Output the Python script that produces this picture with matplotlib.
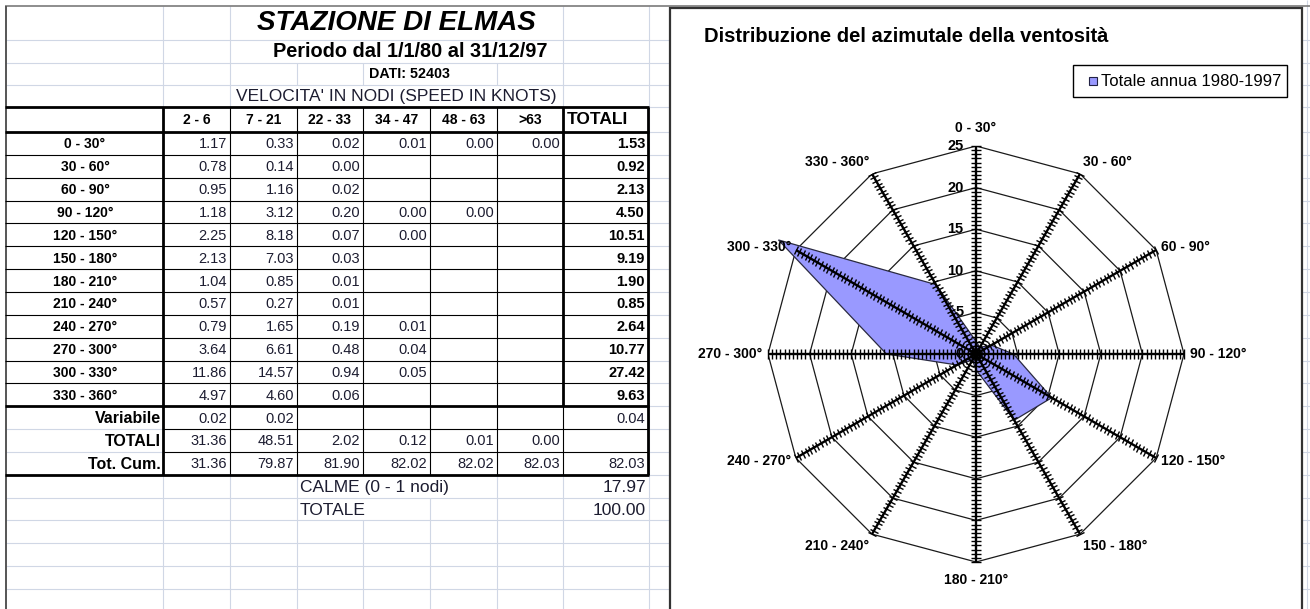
import numpy as np
import matplotlib
matplotlib.use('Agg')
import matplotlib.pyplot as plt
from matplotlib.markers import MarkerStyle
from matplotlib.transforms import Affine2D
from matplotlib.patches import Rectangle
from matplotlib import font_manager as fm

# ---------------- data ----------------
directions = ['0 - 30°', '30 - 60°', '60 - 90°', '90 - 120°', '120 - 150°', '150 - 180°',
              '180 - 210°', '210 - 240°', '240 - 270°', '270 - 300°', '300 - 330°', '330 - 360°']
direction_deg = [0, 30, 60, 90, 120, 150, 180, 210, 240, 270, 300, 330]
speed_classes = ['2 - 6', '7 - 21', '22 - 33', '34 - 47', '48 - 63', '>63']
spd_2_6 = [1.17, 0.78, 0.95, 1.18, 2.25, 2.13, 1.04, 0.57, 0.79, 3.64, 11.86, 4.97]
spd_7_21 = [0.33, 0.14, 1.16, 3.12, 8.18, 7.03, 0.85, 0.27, 1.65, 6.61, 14.57, 4.60]
spd_22_33 = [0.02, 0.00, 0.02, 0.20, 0.07, 0.03, 0.01, 0.01, 0.19, 0.48, 0.94, 0.06]
spd_34_47 = [0.01, None, None, 0.00, 0.00, None, None, None, 0.01, 0.04, 0.05, None]
spd_48_63 = [0.00, None, None, 0.00, None, None, None, None, None, None, None, None]
spd_gt63 = [0.00, None, None, None, None, None, None, None, None, None, None, None]
dir_totals = [1.53, 0.92, 2.13, 4.50, 10.51, 9.19, 1.90, 0.85, 2.64, 10.77, 27.42, 9.63]
variabile = [0.02, 0.02, None, None, None, None]
variabile_total = 0.04
class_totals = [31.36, 48.51, 2.02, 0.12, 0.01, 0.00]
cumulative = [31.36, 79.87, 81.90, 82.02, 82.02, 82.03]
cumulative_total = 82.03
calme = 17.97
totale = 100.00
radial_ticks = [0, 5, 10, 15, 20, 25]
series_label = 'Totale annua 1980-1997'

# ---------------- fonts ----------------
avail = {f.name for f in fm.fontManager.ttflist}
base = 'Liberation Sans' if 'Liberation Sans' in avail else 'DejaVu Sans'
plt.rcParams['font.family'] = [base, 'DejaVu Sans']

W, H = 1310, 609
fig = plt.figure(figsize=(W / 100, H / 100), dpi=100)
fig.patch.set_facecolor('white')
bg = fig.add_axes([0, 0, 1, 1])
bg.set_xlim(0, W)
bg.set_ylim(H, 0)
bg.axis('off')

GRID = '#d0d7e5'
TXT = '#1c1c30'

# spreadsheet geometry (pixels)
cols = [5, 163, 230, 297, 363, 430, 497, 563, 648]
grid_x = [163, 230, 297, 363, 430, 497, 563, 649]
top_rows = [6, 40, 62.5, 85, 107]
t0, rh = 132, 22.85
row_edges = [t0 + k * rh for k in range(0, 22)]

def hl(y, x0, x1, c=GRID, lw=0.8, z=1):
    bg.plot([x0, x1], [y, y], color=c, lw=lw, zorder=z, solid_capstyle='butt')

def vl(x, y0, y1, c=GRID, lw=0.8, z=1):
    bg.plot([x, x], [y0, y1], color=c, lw=lw, zorder=z, solid_capstyle='butt')

# gray spreadsheet grid - top rows
for y in top_rows[1:4]:
    hl(y, 5, W)
vis_top = [[163, 230, 563, 649], [163, 230, 563, 649],
           [163, 230, 297, 363, 497, 563, 649], [163, 230, 563, 649]]
for i in range(4):
    for x in vis_top[i]:
        vl(x, top_rows[i], top_rows[i + 1])
# gray grid beside / below table
tab_bot = row_edges[15]
for k in range(0, 22):
    y = row_edges[k]
    if y > H + 5:
        break
    if k <= 15:
        hl(y, 649, W)
    else:
        hl(y, 5, W)
hl(top_rows[4], 649, W)
for k in (13, 14):
    hl(row_edges[k], 5, 163)
vl(649, top_rows[4], tab_bot)
calme_vis = [163, 230, 297, 497, 563, 649]
totale_vis = [163, 230, 297, 430, 497, 563, 649]
for x in calme_vis:
    vl(x, row_edges[15], row_edges[16])
for x in totale_vis:
    vl(x, row_edges[16], row_edges[17])
for x in grid_x:
    vl(x, row_edges[17], H)
vl(1307, 0, H)

# outer sheet frame
hl(6, 5, W, c='#7a7a7a', lw=1.2, z=2)
vl(5.5, 6, H, c='#555555', lw=1.4, z=2)

# table black lines
BL = 'black'
thin, thick = 0.8, 2.0
for k in range(1, 12):
    hl(row_edges[k], 5, 648, c=BL, lw=thin, z=3)
for k in (13, 14):
    hl(row_edges[k], 163, 648, c=BL, lw=thin, z=3)
for y in (107, row_edges[0], row_edges[12], row_edges[15]):
    hl(y, 5, 649, c=BL, lw=thick, z=4)
for x in cols[2:7]:
    vl(x, 107, tab_bot, c=BL, lw=thin, z=3)
vl(163, 107, tab_bot, c=BL, lw=thick, z=4)
vl(563, 107, row_edges[12], c=BL, lw=thick, z=4)
vl(563, row_edges[12], tab_bot, c=BL, lw=thin, z=3)
vl(647.5, 107, tab_bot, c=BL, lw=thick, z=4)

# ---------------- table texts ----------------
def txt(x, y, s, size, weight='normal', style='normal', ha='center', color=TXT):
    bg.text(x, y, s, fontsize=size, fontweight=weight, fontstyle=style,
            ha=ha, va='center', color=color, zorder=6)

txt(396, 23, 'STAZIONE DI ELMAS', 20, 'bold', 'italic', color='black')
txt(410, 51.5, 'Periodo dal 1/1/80 al 31/12/97', 14.4, 'bold', color='black')
txt(409, 74, 'DATI: 52403', 10.3, 'bold', color='black')
txt(396, 96.5, "VELOCITA' IN NODI (SPEED IN KNOTS)", 12.5)

hdr_y = (107 + row_edges[0]) / 2 + 1
for j, sc in enumerate(speed_classes):
    txt((cols[1 + j] + cols[2 + j]) / 2, hdr_y, sc, 10, 'bold', color='black')
txt(567, hdr_y - 1, 'TOTALI', 12.5, 'bold', ha='left', color='black')

def fmt(v):
    return '' if v is None else f'{v:.2f}'

table_cols = [spd_2_6, spd_7_21, spd_22_33, spd_34_47, spd_48_63, spd_gt63]
for i, d in enumerate(directions):
    yc = (row_edges[i] + row_edges[i + 1]) / 2 + 1
    txt(85, yc, d, 10, 'bold', color='black')
    for j, colv in enumerate(table_cols):
        s = fmt(colv[i])
        if s:
            txt(cols[2 + j] - 3, yc, s, 10.5, ha='right')
    txt(cols[8] - 3, yc, fmt(dir_totals[i]), 10.5, 'bold', ha='right', color='black')

def summary_row(k, label, vals, total):
    yc = (row_edges[k] + row_edges[k + 1]) / 2 + 1
    txt(161, yc, label, 11.5, 'bold', ha='right', color='black')
    for j, v in enumerate(vals):
        s = fmt(v)
        if s:
            txt(cols[2 + j] - 3, yc, s, 10.5, ha='right')
    if total is not None:
        txt(cols[8] - 3, yc, fmt(total), 10.5, ha='right')

summary_row(12, 'Variabile', variabile, variabile_total)
summary_row(13, 'TOTALI', class_totals, None)
summary_row(14, 'Tot. Cum.', cumulative, cumulative_total)

yc = (row_edges[15] + row_edges[16]) / 2 + 1
txt(300, yc, 'CALME (0 - 1 nodi)', 12.5, ha='left')
txt(646, yc, fmt(calme), 12.5, ha='right')
yc = (row_edges[16] + row_edges[17]) / 2 + 1
txt(300, yc, 'TOTALE', 12.5, ha='left')
txt(646, yc, fmt(totale), 12.5, ha='right')

# ---------------- chart area ----------------
bg.add_patch(Rectangle((670, 8), 632, H, facecolor='white', edgecolor='#333333',
                       lw=1.6, zorder=8))
bg.text(704, 37, 'Distribuzione del azimutale della ventosità', fontsize=14.5,
        fontweight='bold', ha='left', va='center', color='black', zorder=9)
# legend
bg.add_patch(Rectangle((1073, 65), 214, 32, facecolor='white', edgecolor='black',
                       lw=1.0, zorder=9))
bg.add_patch(Rectangle((1089, 77), 8, 8, facecolor='#9999ff', edgecolor='#222244',
                       lw=0.8, zorder=10))
bg.text(1101, 81.5, series_label, fontsize=12, ha='left', va='center',
        color='black', zorder=10)

# radar (polar) axes centred at (976, 354) px, radius 208 px for 25
cx, cy, R = 976, 354, 208
ax = fig.add_axes([(cx - R) / W, (H - cy - R) / H, 2 * R / W, 2 * R / H],
                  projection='polar', zorder=12)
ax.set_theta_zero_location('N')
ax.set_theta_direction(-1)
ax.set_ylim(0, radial_ticks[-1])
ax.grid(False)
ax.spines['polar'].set_visible(False)
ax.set_xticks([])
ax.set_yticks([])
ax.patch.set_alpha(0)

theta = np.deg2rad(direction_deg)
theta_c = np.append(theta, theta[0])
for r in radial_ticks[1:]:
    ax.plot(theta_c, [r] * len(theta_c), color='#1a1a1a', lw=0.9, zorder=1)

vals_c = np.append(dir_totals, dir_totals[0])
ax.fill(theta_c, vals_c, facecolor='#9999ff', edgecolor='#2a2a40', lw=0.9,
        zorder=2, clip_on=False)

minor = np.arange(0.5, radial_ticks[-1] + 0.01, 0.5)
for t, deg in zip(theta, direction_deg):
    ax.plot([t, t], [0, radial_ticks[-1]], color='black', lw=1.7, zorder=3,
            solid_capstyle='butt')
    mk = MarkerStyle('_', transform=Affine2D().rotate_deg(-deg))
    ax.plot([t] * len(minor), minor, linestyle='none', marker=mk, markersize=6.5,
            markeredgewidth=1.0, color='black', zorder=3, clip_on=False)

for v in radial_ticks:
    ax.annotate(str(v), xy=(0, v), xytext=(-9, 0), textcoords='offset points',
                ha='right', va='center', fontsize=10.5, fontweight='bold',
                color='black', annotation_clip=False, zorder=5)

for lab, t, deg in zip(directions, theta, direction_deg):
    s, c = np.sin(t), np.cos(t)
    ha = 'left' if s > 0.1 else ('right' if s < -0.1 else 'center')
    va = 'bottom' if c > 0.7 else ('top' if c < -0.7 else 'center')
    off = 8 if abs(s) < 0.1 else 4
    ax.annotate(lab, xy=(t, radial_ticks[-1]), xytext=(off * s, off * c),
                textcoords='offset points', ha=ha, va=va, fontsize=10,
                fontweight='bold', color='black', annotation_clip=False, zorder=5)

fig.savefig('out.png', dpi=100, facecolor='white')
